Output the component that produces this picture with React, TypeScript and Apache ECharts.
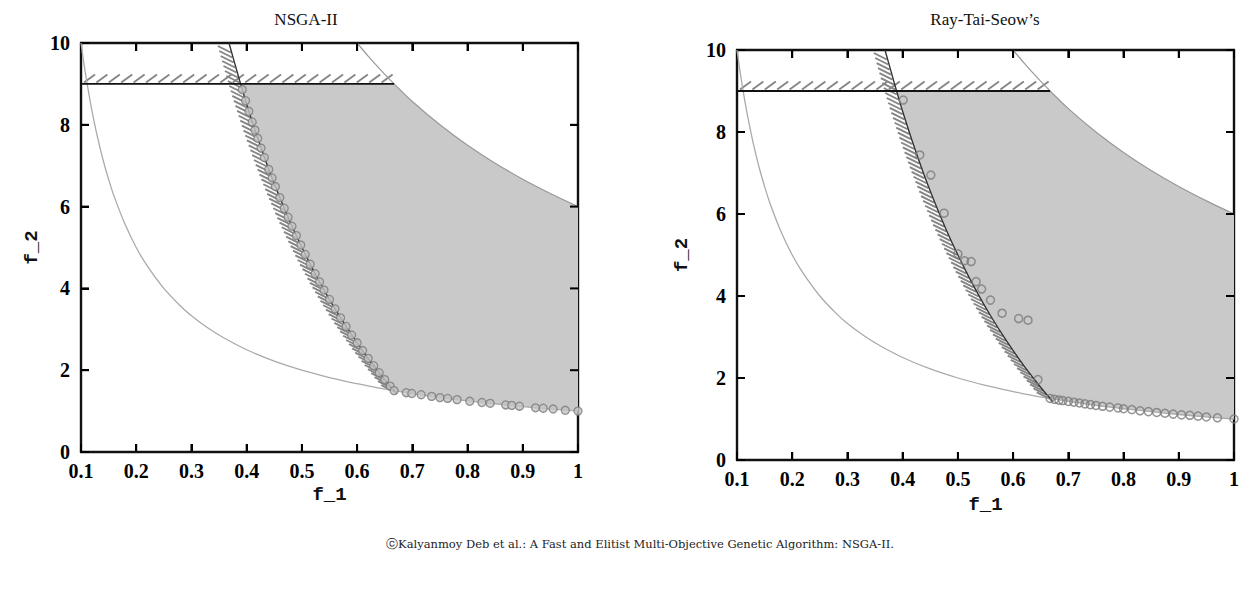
import React, { useEffect, useRef } from "react";
import * as echarts from "echarts";

// ---- data ----
const TITLES = ["NSGA-II", "Ray-Tai-Seow\u2019s"];
const CAPTION = "\u24D2Kalyanmoy Deb et al.: A Fast and Elitist Multi-Objective Genetic Algorithm: NSGA-II.";
const X_NAME = "f_1";
const Y_NAME = "f_2";

// lower boundary (x2 = 0)
const LOWER_X = [0.1, 0.105, 0.11, 0.115, 0.12, 0.13, 0.14, 0.15, 0.16, 0.18, 0.2, 0.22, 0.25, 0.28, 0.3, 0.33, 0.36, 0.4, 0.45, 0.5, 0.55, 0.6, 0.64, 0.667, 0.7, 0.75, 0.8, 0.85, 0.9, 0.95, 1.0];
const LOWER_Y = [10, 9.52, 9.09, 8.7, 8.33, 7.69, 7.14, 6.67, 6.25, 5.56, 5.0, 4.55, 4.0, 3.57, 3.33, 3.03, 2.78, 2.5, 2.22, 2.0, 1.82, 1.67, 1.56, 1.5, 1.43, 1.33, 1.25, 1.18, 1.11, 1.05, 1.0];
// upper boundary (x2 = 5)
const UPPER_X = [0.6, 0.62, 0.64, 0.667, 0.7, 0.75, 0.8, 0.85, 0.9, 0.95, 1.0];
const UPPER_Y = [10, 9.68, 9.38, 9.0, 8.57, 8.0, 7.5, 7.06, 6.67, 6.32, 6.0];
// first constraint boundary (hatched curve)
const CONSTR_X = [0.368, 0.378, 0.389, 0.4, 0.42, 0.44, 0.46, 0.48, 0.5, 0.52, 0.54, 0.56, 0.58, 0.6, 0.62, 0.64, 0.655, 0.667, 0.672];
const CONSTR_Y = [10.0, 9.52, 9.0, 8.5, 7.67, 6.91, 6.22, 5.58, 5.0, 4.46, 3.96, 3.5, 3.07, 2.67, 2.29, 1.94, 1.69, 1.5, 1.42];
// second constraint boundary (hatched horizontal line)
const HLINE_X = [0.1, 0.667];
const HLINE_Y = [9, 9];
// feasible-region corners along the f2 = 9 edge
const FEAS_X_LEFT = 0.389;
const FEAS_X_RIGHT = 0.667;

// NSGA-II solutions
const NSGA_X = [0.392, 0.398, 0.404, 0.41, 0.415, 0.42, 0.426, 0.432, 0.44, 0.446, 0.452, 0.46, 0.468, 0.475, 0.482, 0.49, 0.498, 0.506, 0.515, 0.524, 0.532, 0.54, 0.55, 0.56, 0.57, 0.58, 0.59, 0.6, 0.61, 0.62, 0.63, 0.64, 0.65, 0.66,
  0.667, 0.689, 0.699, 0.716, 0.735, 0.75, 0.764, 0.781, 0.804, 0.826, 0.841, 0.869, 0.88, 0.894, 0.923, 0.937, 0.955, 0.977, 1.0];
const NSGA_Y = [8.86, 8.59, 8.33, 8.07, 7.87, 7.67, 7.43, 7.2, 6.91, 6.7, 6.49, 6.22, 5.96, 5.74, 5.52, 5.29, 5.06, 4.83, 4.59, 4.36, 4.16, 3.96, 3.73, 3.5, 3.28, 3.07, 2.86, 2.67, 2.48, 2.29, 2.11, 1.94, 1.77, 1.61,
  1.5, 1.45, 1.43, 1.4, 1.36, 1.33, 1.31, 1.28, 1.24, 1.21, 1.19, 1.15, 1.14, 1.12, 1.08, 1.07, 1.05, 1.02, 1.0];

// Ray-Tai-Seow solutions
const RTS_X = [0.401, 0.431, 0.451, 0.475, 0.5, 0.512, 0.524, 0.533, 0.543, 0.559, 0.58, 0.61, 0.627, 0.645,
  0.667, 0.675, 0.683, 0.69, 0.7, 0.71, 0.72, 0.73, 0.74, 0.75, 0.762, 0.775, 0.79, 0.8, 0.815, 0.83, 0.845, 0.86, 0.875, 0.89, 0.905, 0.92, 0.935, 0.95, 0.97, 1.0];
const RTS_Y = [8.78, 7.44, 6.95, 6.02, 5.03, 4.86, 4.84, 4.35, 4.17, 3.9, 3.58, 3.45, 3.41, 1.96,
  1.5, 1.48, 1.46, 1.45, 1.43, 1.41, 1.39, 1.37, 1.35, 1.33, 1.31, 1.29, 1.27, 1.25, 1.23, 1.2, 1.18, 1.16, 1.14, 1.12, 1.1, 1.09, 1.07, 1.05, 1.03, 1.0];

const X_MIN = 0.1, X_MAX = 1, X_STEP = 0.1;
const Y_MIN = 0, Y_MAX = 10, Y_STEP = 2;
// interior tick positions (mirrored on all four sides of each frame)
const X_TICKS = [0.2, 0.3, 0.4, 0.5, 0.6, 0.7, 0.8, 0.9];
const Y_TICKS = [2, 4, 6, 8];

const zip = (xs: number[], ys: number[]) => xs.map((x, i) => [x, ys[i]]);

// layout
const GRIDS = [
  { left: 81, top: 43, width: 497, height: 409, title: [306, 19], xGap: 32, yGap: 40 },
  { left: 737, top: 50, width: 497, height: 410, title: [985, 19], xGap: 35, yGap: 46 },
];
const TICK_LEN = 8;

const SERIF = "'Liberation Serif', 'DejaVu Serif', serif";
const WIDE_SERIF = "'DejaVu Serif', serif";
const MONO = "'Liberation Mono', 'DejaVu Sans Mono', monospace";

function regionPoints() {
  const c = zip(CONSTR_X, CONSTR_Y).filter((p) => p[0] >= FEAS_X_LEFT && p[0] <= FEAS_X_RIGHT);
  const lo = zip(LOWER_X, LOWER_Y).filter((p) => p[0] > FEAS_X_RIGHT);
  const up = zip(UPPER_X, UPPER_Y).filter((p) => p[0] >= FEAS_X_RIGHT).reverse();
  return [...c, ...lo, ...up];
}

const tickStyle = () => ({ show: true, inside: true, length: TICK_LEN, lineStyle: { color: "#000", width: 2 } });
const axisLineStyle = () => ({ show: true, onZero: false, lineStyle: { color: "#111", width: 2.4 } });
const labelStyle = () => ({ fontFamily: SERIF, fontWeight: "bold", fontSize: 20, color: "#000" });
const nameStyle = () => ({ fontFamily: MONO, fontWeight: "bold", fontSize: 19, color: "#111" });
const fmt = (v: number) => String(Math.round(v * 10) / 10);

function buildOption() {
  const xAxis: any[] = [];
  const yAxis: any[] = [];
  const grid: any[] = [];
  const series: any[] = [];
  const graphic: any[] = [];

  const poly = regionPoints();
  const constr = zip(CONSTR_X, CONSTR_Y);
  const hline = zip(HLINE_X, HLINE_Y);

  GRIDS.forEach((g, gi) => {
    grid.push({ left: g.left, top: g.top, width: g.width, height: g.height, containLabel: false, show: false });
    const common = () => ({
      type: "value", gridIndex: gi,
      splitLine: { show: false }, axisLine: axisLineStyle(), axisTick: tickStyle(),
    });
    xAxis.push({
      ...common(), position: "bottom", min: X_MIN, max: X_MAX, interval: X_STEP,
      axisLabel: { ...labelStyle(), margin: 9, formatter: fmt, showMinLabel: true, showMaxLabel: true },
      name: X_NAME, nameLocation: "middle", nameGap: g.xGap, nameTextStyle: nameStyle(),
    });
    xAxis.push({ ...common(), position: "top", min: X_MIN, max: X_MAX, interval: X_STEP, axisLabel: { show: false } });
    yAxis.push({
      ...common(), position: "left", min: Y_MIN, max: Y_MAX, interval: Y_STEP,
      axisLabel: { ...labelStyle(), margin: 11, showMinLabel: true, showMaxLabel: true },
      name: Y_NAME, nameLocation: "middle", nameGap: g.yGap, nameTextStyle: nameStyle(), nameRotate: 90,
    });
    yAxis.push({ ...common(), position: "right", min: Y_MIN, max: Y_MAX, interval: Y_STEP, axisLabel: { show: false } });

    const ax = { xAxisIndex: gi * 2, yAxisIndex: gi * 2 };

    // feasible region
    series.push({
      type: "custom", ...ax, silent: true, z: 1, data: [[0.5, 5]],
      renderItem: (_p: any, api: any) => ({
        type: "polygon",
        shape: { points: poly.map((p) => api.coord(p)) },
        style: { fill: "#c9c9c9", stroke: "none" },
      }),
    });

    // hatching
    series.push({
      type: "custom", ...ax, silent: true, z: 2, data: [[0.5, 5]],
      renderItem: (params: any, api: any) => {
        const cs = params.coordSys;
        const children: any[] = [];
        const stroke = { stroke: "#858585", lineWidth: 1.9, fill: "none" };
        const pts = constr.map((p) => api.coord(p));
        const step = 5.2;
        let t0 = 0;
        for (let i = 0; i < pts.length - 1; i++) {
          const a = pts[i], b = pts[i + 1];
          const len = Math.hypot(b[0] - a[0], b[1] - a[1]);
          let t = t0;
          while (t <= len) {
            const px = a[0] + ((b[0] - a[0]) * t) / len;
            const py = a[1] + ((b[1] - a[1]) * t) / len;
            const ex = px - 14, ey = py - 7;
            if (ey >= cs.y + 1 && ex >= cs.x) {
              children.push({ type: "line", shape: { x1: ex, y1: ey, x2: px - 1, y2: py - 0.5 }, style: stroke });
            }
            t += step;
          }
          t0 = t - len;
        }
        const h0 = api.coord(hline[0]);
        const h1 = api.coord(hline[1]);
        for (let x = h0[0] + 3; x + 11 <= h1[0]; x += 12.4) {
          children.push({ type: "line", shape: { x1: x, y1: h0[1] - 1.5, x2: x + 11, y2: h0[1] - 9.5 }, style: stroke });
        }
        return { type: "group", children };
      },
    });

    // boundaries
    series.push({
      type: "line", ...ax, z: 3, data: zip(LOWER_X, LOWER_Y), showSymbol: false, smooth: 0.3, silent: true,
      lineStyle: { color: "#aaaaaa", width: 1.3 },
    });
    series.push({
      type: "line", ...ax, z: 3, data: zip(UPPER_X, UPPER_Y), showSymbol: false, smooth: 0.3, silent: true,
      lineStyle: { color: "#999", width: 1.2 },
    });
    series.push({
      type: "line", ...ax, z: 3, data: constr, showSymbol: false, smooth: 0.3, silent: true,
      lineStyle: { color: "#333", width: 1.4 },
    });
    series.push({
      type: "line", ...ax, z: 3, data: hline, showSymbol: false, silent: true,
      lineStyle: { color: "#111", width: 1.8 },
    });

    // solutions
    if (gi === 0) {
      series.push({
        type: "scatter", ...ax, z: 5, data: zip(NSGA_X, NSGA_Y), symbol: "circle", symbolSize: 8, silent: true,
        itemStyle: { color: "#c4c4c4", borderColor: "#7a7a7a", borderWidth: 1.3 },
      });
    } else {
      series.push({
        type: "scatter", ...ax, z: 5, data: zip(RTS_X, RTS_Y), symbol: "circle", symbolSize: 8, silent: true,
        itemStyle: { color: "rgba(0,0,0,0)", borderColor: "#7a7a7a", borderWidth: 1.5 },
      });
    }

    // inward ticks on all four frame sides, placed through the axes' scales
    series.push({
      type: "custom", ...ax, silent: true, z: 6, data: [[0.5, 5]],
      renderItem: (_p: any, api: any) => {
        const st = { stroke: "#000", lineWidth: 2, fill: "none" };
        const children: any[] = [];
        X_TICKS.forEach((v) => {
          const b = api.coord([v, Y_MIN]);
          const t = api.coord([v, Y_MAX]);
          children.push({ type: "line", shape: { x1: b[0], y1: b[1], x2: b[0], y2: b[1] - TICK_LEN }, style: st });
          children.push({ type: "line", shape: { x1: t[0], y1: t[1], x2: t[0], y2: t[1] + TICK_LEN }, style: st });
        });
        Y_TICKS.forEach((v) => {
          const l = api.coord([X_MIN, v]);
          const r = api.coord([X_MAX, v]);
          children.push({ type: "line", shape: { x1: l[0], y1: l[1], x2: l[0] + TICK_LEN, y2: l[1] }, style: st });
          children.push({ type: "line", shape: { x1: r[0], y1: r[1], x2: r[0] - TICK_LEN, y2: r[1] }, style: st });
        });
        return { type: "group", children };
      },
    });

    graphic.push({
      type: "text", x: g.title[0], y: g.title[1], silent: true,
      style: { text: TITLES[gi], font: `17px ${SERIF}`, fill: "#111", textAlign: "center", textVerticalAlign: "middle" },
    });
  });

  graphic.push({
    type: "text", x: 640, y: 544, silent: true,
    style: { text: CAPTION, font: `11.5px ${WIDE_SERIF}`, fill: "#222", textAlign: "center", textVerticalAlign: "middle" },
  });

  return { animation: false, backgroundColor: "#fff", grid, xAxis, yAxis, series, graphic };
}

export default function App() {
  const ref = useRef<HTMLDivElement>(null);
  useEffect(() => {
    document.body.style.margin = "0";
    if (!ref.current) return;
    const chart = echarts.init(ref.current, undefined, { renderer: "svg" });
    chart.setOption(buildOption() as any);
    return () => chart.dispose();
  }, []);
  return <div ref={ref} style={{ width: 1248, height: 592 }} />;
}
